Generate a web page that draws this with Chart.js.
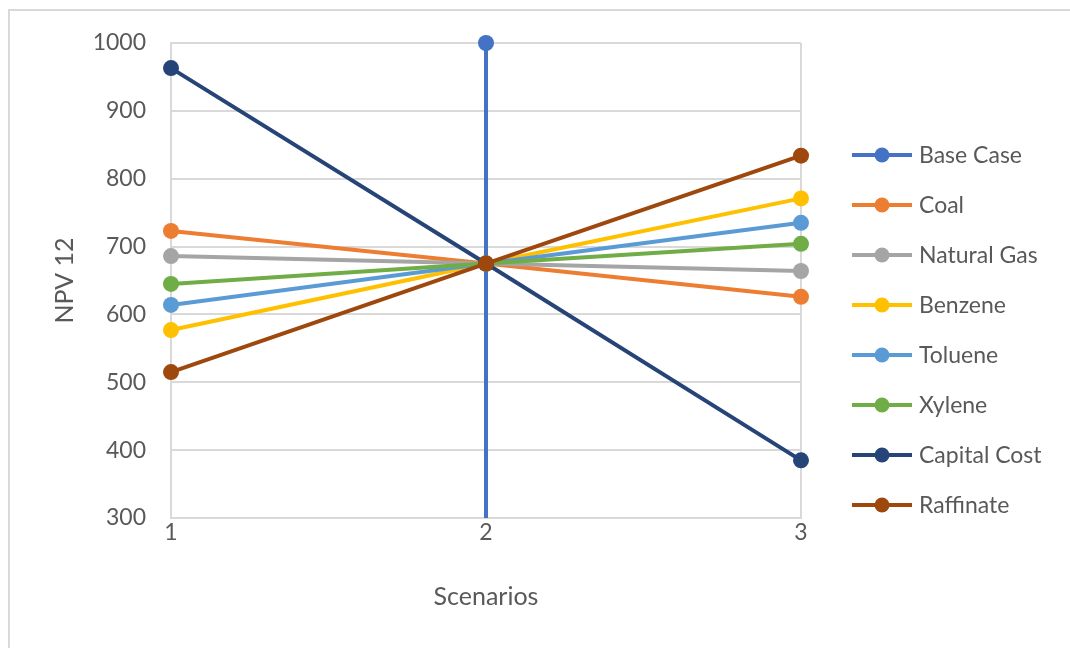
<!DOCTYPE html>
<html>
<head>
<meta charset="utf-8">
<script src="https://cdn.jsdelivr.net/npm/chart.js@4"></script>
<style>
  html, body { margin: 0; padding: 0; background: #ffffff; }
  #wrap { width: 1070px; height: 648px; position: relative; }
</style>
</head>
<body>
<div id="wrap"><canvas id="npv"></canvas></div>
<script>
// Scenario positions on the x axis
const scenarios = [1, 2, 3];
const yTicks = [300, 400, 500, 600, 700, 800, 900, 1000];

// Base Case is a vertical reference line at scenario 2
const baseCaseX = [2, 2];
const baseCaseY = [1000, 0];

// NPV 12 per scenario for each sensitivity
const coal        = [723, 675, 626];
const naturalGas  = [686, 675, 664];
const benzene     = [577, 675, 771];
const toluene     = [614, 675, 735];
const xylene      = [645, 675, 704];
const capitalCost = [963, 675, 385];
const raffinate   = [515, 675, 834];

const seriesNames = ['Base Case', 'Coal', 'Natural Gas', 'Benzene', 'Toluene', 'Xylene', 'Capital Cost', 'Raffinate'];
const seriesColors = ['#4472C4', '#ED7D31', '#A5A5A5', '#FFC000', '#5B9BD5', '#70AD47', '#264478', '#9E480E'];

const FONT = 'Lato';
const TEXT = '#595959';
const GRID = '#d9d9d9';

function toPoints(xs, ys) { return ys.map((y, i) => ({ x: xs[i], y })); }

const seriesValues = [null, coal, naturalGas, benzene, toluene, xylene, capitalCost, raffinate];

const datasets = seriesNames.map((name, i) => {
  const data = i === 0 ? toPoints(baseCaseX, baseCaseY) : toPoints(scenarios, seriesValues[i]);
  return {
    label: name,
    data,
    showLine: true,
    borderColor: seriesColors[i],
    backgroundColor: seriesColors[i],
    borderWidth: 4,
    pointRadius: 8,
    pointHoverRadius: 8,
    pointBorderWidth: 0,
    tension: 0,
    order: seriesNames.length - i,
    clip: i === 0 ? { left: 20, top: 20, right: 20, bottom: 0 } : false
  };
});

// Outer frame of the chart object
const framePlugin = {
  id: 'frame',
  beforeDraw(chart) {
    const c = chart.ctx;
    c.save();
    c.fillStyle = '#ffffff';
    c.fillRect(0, 0, chart.width, chart.height);
    c.fillStyle = GRID;
    c.fillRect(8, 9, chart.width, 2);
    c.fillRect(8, 9, 2, chart.height);
    c.restore();
  }
};

// Legend on the right: line sample with a round marker, then the series name
const legendPlugin = {
  id: 'lineMarkerLegend',
  afterDraw(chart) {
    const c = chart.ctx;
    const x0 = 852, x1 = 912, top = 155, step = 50;
    c.save();
    c.font = '23px ' + FONT;
    c.textBaseline = 'middle';
    c.textAlign = 'left';
    chart.data.datasets.forEach((ds, i) => {
      const y = top + i * step;
      c.strokeStyle = ds.borderColor;
      c.lineWidth = 4;
      c.beginPath();
      c.moveTo(x0, y);
      c.lineTo(x1, y);
      c.stroke();
      c.fillStyle = ds.backgroundColor;
      c.beginPath();
      c.arc((x0 + x1) / 2, y, 7.5, 0, Math.PI * 2);
      c.fill();
      c.fillStyle = TEXT;
      c.fillText(ds.label, 919, y + 1);
    });
    c.restore();
  }
};

new Chart(document.getElementById('npv'), {
  type: 'scatter',
  data: { datasets },
  plugins: [framePlugin, legendPlugin],
  options: {
    responsive: true,
    maintainAspectRatio: false,
    animation: false,
    events: [],
    layout: { padding: { left: 0, top: 43, right: 269, bottom: 0 } },
    plugins: {
      legend: { display: false },
      tooltip: { enabled: false }
    },
    scales: {
      x: {
        type: 'linear',
        min: scenarios[0],
        max: scenarios[scenarios.length - 1],
        afterBuildTicks(scale) { scale.ticks = scenarios.map(v => ({ value: v })); },
        afterFit(scale) { scale.height = 130; },
        grid: { color: GRID, lineWidth: 2, drawTicks: false },
        border: { color: GRID, width: 2 },
        ticks: { color: TEXT, font: { family: FONT, size: 23 }, padding: 1, callback: v => String(v) },
        title: {
          display: true,
          text: 'Scenarios',
          color: TEXT,
          font: { family: FONT, size: 25 },
          padding: { bottom: 36 }
        }
      },
      y: {
        min: yTicks[0],
        max: yTicks[yTicks.length - 1],
        afterBuildTicks(scale) { scale.ticks = yTicks.map(v => ({ value: v })); },
        afterFit(scale) { scale.width = 171; },
        grid: { color: GRID, lineWidth: 2, drawTicks: false },
        border: { color: GRID, width: 2 },
        ticks: { color: TEXT, font: { family: FONT, size: 23 }, padding: 25, callback: v => String(v) },
        title: {
          display: true,
          text: 'NPV 12',
          color: TEXT,
          font: { family: FONT, size: 25 },
          padding: { top: 50 }
        }
      }
    }
  }
});
</script>
</body>
</html>
